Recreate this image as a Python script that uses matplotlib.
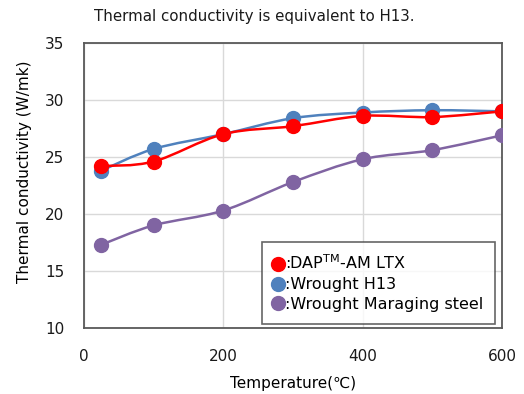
import numpy as np
import matplotlib.pyplot as plt
from matplotlib.path import Path
from matplotlib.patches import PathPatch

temps = [25, 100, 200, 300, 400, 500, 600]
dap_ltx = [24.2, 24.6, 27.0, 27.7, 28.6, 28.5, 29.0]
h13 = [23.8, 25.7, 27.0, 28.4, 28.9, 29.1, 29.0]
maraging = [17.3, 19.0, 20.3, 22.8, 24.8, 25.6, 26.9]

labels = [":DAP$^{\\mathrm{TM}}$-AM LTX", ":Wrought H13", ":Wrought Maraging steel"]
colors = ["#FF0000", "#4F81BD", "#8064A2"]


def smooth_path(x, y):
    # excel-like smoothed line: cubic bezier through the points
    p = np.column_stack([x, y]).astype(float)
    n = len(p)
    verts = [p[0]]
    codes = [Path.MOVETO]
    for i in range(n - 1):
        p0 = p[i - 1] if i > 0 else p[i]
        p1 = p[i]
        p2 = p[i + 1]
        p3 = p[i + 2] if i + 2 < n else p[i + 1]
        c1 = p1 + (p2 - p0) / 6
        c2 = p2 - (p3 - p1) / 6
        verts += [c1, c2, p2]
        codes += [Path.CURVE4] * 3
    return Path(verts, codes)


plt.rcParams['font.family'] = ['DejaVu Sans']
fig = plt.figure(figsize=(5.24, 3.94), dpi=100)
ax = fig.add_axes([0.160, 0.1675, 0.798, 0.7235])

series = [maraging, h13, dap_ltx]
order = [2, 1, 0]
handles = {}
for k, s in zip(order, series):
    ax.add_patch(PathPatch(smooth_path(temps, s), fill=False, edgecolor=colors[k],
                           lw=1.8, zorder=3))
    h, = ax.plot(temps, s, 'o', color=colors[k], ms=10, zorder=4, label=labels[k])
    handles[k] = h

ax.set_xlim(0, 600)
ax.set_ylim(10, 35)
ax.set_xticks([0, 200, 400, 600])
ax.set_yticks([10, 15, 20, 25, 30, 35])
ax.grid(True, color="#D9D9D9", lw=1)
ax.set_axisbelow(True)
ax.tick_params(length=0, labelsize=11, colors="#1a1a1a")
ax.tick_params(axis='y', pad=14)
ax.tick_params(axis='x', pad=15)
for sp in ax.spines.values():
    sp.set_color("#595959")
    sp.set_linewidth(1.3)

ax.set_xlabel("Temperature(℃)", fontsize=11)
ax.xaxis.set_label_coords(0.5, -0.168)
ax.set_ylabel("Thermal conductivity (W/mk)", fontsize=11)
ax.yaxis.set_label_coords(-0.125, 0.547)
fig.text(0.485, 0.957, "Thermal conductivity is equivalent to H13.", ha='center',
         va='center', fontsize=10.8, color="#1a1a1a")

leg = ax.legend([handles[0], handles[1], handles[2]], labels, loc='lower right',
                bbox_to_anchor=(0.993, 0.0), fontsize=11.5, frameon=True, fancybox=False,
                handlelength=0.6, handletextpad=0.1, borderpad=0.75, labelspacing=0.3,
                borderaxespad=0.25)
leg.get_frame().set_edgecolor("#404040")
leg.get_frame().set_linewidth(1.2)

fig.savefig("out.png", dpi=100)
